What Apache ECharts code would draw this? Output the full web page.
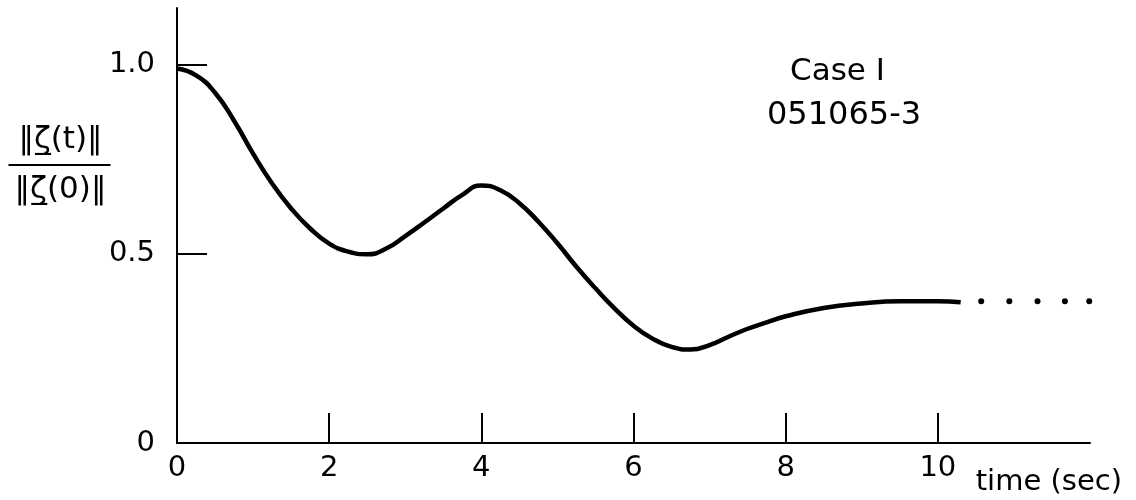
<!DOCTYPE html>
<html>
<head>
    <script src="https://cdn.jsdelivr.net/npm/echarts@6/dist/echarts.min.js"></script>
</head>
<body style="margin:0">
<div id="echartsMain" style="width: 1136px; height: 500px;"></div>
</body>
</html>

<script type="text/javascript">
    // curve: time (sec) vs ||zeta(t)|| / ||zeta(0)||
    let timeVals = [0, 0.25, 0.5, 0.75, 1, 1.25, 1.5, 1.75, 2, 2.25, 2.5, 2.75, 3, 3.25, 3.5, 3.75, 4, 4.25, 4.5, 4.75,
        5, 5.25, 5.5, 5.75, 6, 6.25, 6.5, 6.75, 7, 7.25, 7.5, 7.75, 8, 8.5, 9, 9.5, 10, 10.3]
    let ratioVals = [0.99, 0.972, 0.926, 0.852, 0.765, 0.686, 0.62, 0.567, 0.527, 0.506, 0.499, 0.514, 0.547, 0.583, 0.62, 0.656,
        0.681, 0.668, 0.634, 0.585, 0.528, 0.466, 0.409, 0.356, 0.31, 0.276, 0.254, 0.247, 0.259, 0.281, 0.302, 0.319,
        0.335, 0.357, 0.369, 0.375, 0.375, 0.372]
    // trailing dots
    let dotTimes = [10.57, 10.94, 11.31, 11.67, 11.99]
    let dotRatio = [0.375, 0.375, 0.375, 0.375, 0.375]

    let xTicks = [2, 4, 6, 8, 10]
    let xLabels = [0, 2, 4, 6, 8, 10]
    let yTicks = [0.5, 1.0]
    let yLabels = [0, 0.5, 1.0]

    let font = 'DejaVu Sans'

    let myChart = echarts.init(document.getElementById('echartsMain'))

    let curve = timeVals.map((t, i) => [t, ratioVals[i]])
    let dots = dotTimes.map((t, i) => [t, dotRatio[i]])

    let option = {
        animation: false,
        backgroundColor: '#fff',
        grid: {left: 177, right: 46, top: 8, bottom: 57},
        xAxis: {
            type: 'value',
            min: 0,
            max: 12,
            interval: 2,
            name: 'time (sec)',
            nameLocation: 'end',
            nameGap: 32,
            nameTextStyle: {
                fontFamily: font, fontSize: 29, color: '#000',
                align: 'right', verticalAlign: 'top', padding: [25, 0, 0, 0]
            },
            splitLine: {show: false},
            axisLine: {lineStyle: {color: '#000', width: 2}},
            axisTick: {inside: true, length: 30, customValues: xTicks, lineStyle: {color: '#000', width: 2}},
            axisLabel: {
                customValues: xLabels, margin: 11,
                fontFamily: font, fontSize: 29, color: '#000'
            }
        },
        yAxis: {
            type: 'value',
            min: 0,
            max: 1.15,
            splitLine: {show: false},
            axisLine: {show: true, lineStyle: {color: '#000', width: 2}},
            axisTick: {show: true, inside: true, length: 30, customValues: yTicks, lineStyle: {color: '#000', width: 2}},
            axisLabel: {
                customValues: yLabels, margin: 22,
                fontFamily: font, fontSize: 29, color: '#000',
                formatter: v => v === 0 ? '0' : v.toFixed(1)
            }
        },
        graphic: [
            {
                type: 'group', left: 6, top: 124,
                children: [
                    {type: 'text', x: 52, y: 0, style: {text: '‖ζ̲(t)‖', font: '31px ' + font, fill: '#000', align: 'center'}},
                    {type: 'line', shape: {x1: 0, y1: 41, x2: 102, y2: 41}, style: {stroke: '#000', lineWidth: 2}},
                    {type: 'text', x: 52, y: 50, style: {text: '‖ζ̲(0)‖', font: '31px ' + font, fill: '#000', align: 'center'}}
                ]
            },
            {type: 'text', left: 790, top: 56, style: {text: 'Case I', font: '31px ' + font, fill: '#000'}},
            {type: 'text', left: 767, top: 100, style: {text: '051065-3', font: '32px ' + font, fill: '#000'}}
        ],
        series: [
            {
                type: 'line',
                data: curve,
                smooth: 0.5,
                showSymbol: false,
                lineStyle: {color: '#000', width: 4.5}
            },
            {
                type: 'scatter',
                data: dots,
                symbolSize: 6,
                itemStyle: {color: '#000', opacity: 1}
            }
        ]
    }
    myChart.setOption(option)
</script>
